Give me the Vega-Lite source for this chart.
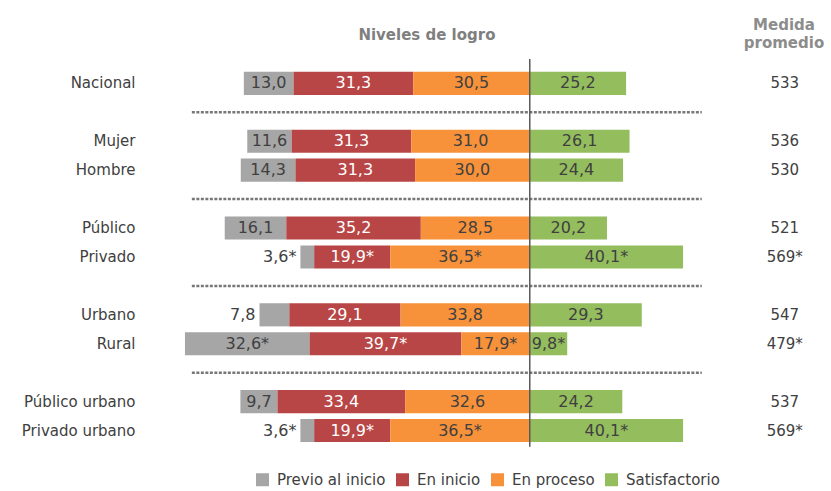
{
  "$schema": "https://vega.github.io/schema/vega-lite/v6.json",
  "width": 625,
  "height": 405,
  "autosize": {"type": "none"},
  "padding": {"left": 180, "top": 40, "right": 26, "bottom": 46},
  "background": "white",
  "config": {"view": {"stroke": null}, "font": "DejaVu Sans"},
  "datasets": {
    "niveles": [
      {"grupo": "Nacional", "nivel": "Previo al inicio", "valor": -13.0, "etiqueta": "13,0"},
      {"grupo": "Nacional", "nivel": "En inicio", "valor": -31.3, "etiqueta": "31,3"},
      {"grupo": "Nacional", "nivel": "En proceso", "valor": -30.5, "etiqueta": "30,5"},
      {"grupo": "Nacional", "nivel": "Satisfactorio", "valor": 25.2, "etiqueta": "25,2"},
      {"grupo": "Mujer", "nivel": "Previo al inicio", "valor": -11.6, "etiqueta": "11,6"},
      {"grupo": "Mujer", "nivel": "En inicio", "valor": -31.3, "etiqueta": "31,3"},
      {"grupo": "Mujer", "nivel": "En proceso", "valor": -31.0, "etiqueta": "31,0"},
      {"grupo": "Mujer", "nivel": "Satisfactorio", "valor": 26.1, "etiqueta": "26,1"},
      {"grupo": "Hombre", "nivel": "Previo al inicio", "valor": -14.3, "etiqueta": "14,3"},
      {"grupo": "Hombre", "nivel": "En inicio", "valor": -31.3, "etiqueta": "31,3"},
      {"grupo": "Hombre", "nivel": "En proceso", "valor": -30.0, "etiqueta": "30,0"},
      {"grupo": "Hombre", "nivel": "Satisfactorio", "valor": 24.4, "etiqueta": "24,4"},
      {"grupo": "Público", "nivel": "Previo al inicio", "valor": -16.1, "etiqueta": "16,1"},
      {"grupo": "Público", "nivel": "En inicio", "valor": -35.2, "etiqueta": "35,2"},
      {"grupo": "Público", "nivel": "En proceso", "valor": -28.5, "etiqueta": "28,5"},
      {"grupo": "Público", "nivel": "Satisfactorio", "valor": 20.2, "etiqueta": "20,2"},
      {"grupo": "Privado", "nivel": "Previo al inicio", "valor": -3.6, "etiqueta": "3,6*"},
      {"grupo": "Privado", "nivel": "En inicio", "valor": -19.9, "etiqueta": "19,9*"},
      {"grupo": "Privado", "nivel": "En proceso", "valor": -36.5, "etiqueta": "36,5*"},
      {"grupo": "Privado", "nivel": "Satisfactorio", "valor": 40.1, "etiqueta": "40,1*"},
      {"grupo": "Urbano", "nivel": "Previo al inicio", "valor": -7.8, "etiqueta": "7,8"},
      {"grupo": "Urbano", "nivel": "En inicio", "valor": -29.1, "etiqueta": "29,1"},
      {"grupo": "Urbano", "nivel": "En proceso", "valor": -33.8, "etiqueta": "33,8"},
      {"grupo": "Urbano", "nivel": "Satisfactorio", "valor": 29.3, "etiqueta": "29,3"},
      {"grupo": "Rural", "nivel": "Previo al inicio", "valor": -32.6, "etiqueta": "32,6*"},
      {"grupo": "Rural", "nivel": "En inicio", "valor": -39.7, "etiqueta": "39,7*"},
      {"grupo": "Rural", "nivel": "En proceso", "valor": -17.9, "etiqueta": "17,9*"},
      {"grupo": "Rural", "nivel": "Satisfactorio", "valor": 9.8, "etiqueta": "9,8*"},
      {"grupo": "Público urbano", "nivel": "Previo al inicio", "valor": -9.7, "etiqueta": "9,7"},
      {"grupo": "Público urbano", "nivel": "En inicio", "valor": -33.4, "etiqueta": "33,4"},
      {"grupo": "Público urbano", "nivel": "En proceso", "valor": -32.6, "etiqueta": "32,6"},
      {"grupo": "Público urbano", "nivel": "Satisfactorio", "valor": 24.2, "etiqueta": "24,2"},
      {"grupo": "Privado urbano", "nivel": "Previo al inicio", "valor": -3.6, "etiqueta": "3,6*"},
      {"grupo": "Privado urbano", "nivel": "En inicio", "valor": -19.9, "etiqueta": "19,9*"},
      {"grupo": "Privado urbano", "nivel": "En proceso", "valor": -36.5, "etiqueta": "36,5*"},
      {"grupo": "Privado urbano", "nivel": "Satisfactorio", "valor": 40.1, "etiqueta": "40,1*"}
    ],
    "promedio": [
      {"grupo": "Nacional", "media": "533"},
      {"grupo": "Mujer", "media": "536"},
      {"grupo": "Hombre", "media": "530"},
      {"grupo": "Público", "media": "521"},
      {"grupo": "Privado", "media": "569*"},
      {"grupo": "Urbano", "media": "547"},
      {"grupo": "Rural", "media": "479*"},
      {"grupo": "Público urbano", "media": "537"},
      {"grupo": "Privado urbano", "media": "569*"}
    ],
    "separadores": [
      {"grupo": "s1"}, {"grupo": "s2"}, {"grupo": "s3"}, {"grupo": "s4"}
    ],
    "encabezado1": [{"grupo": "header", "texto": "Niveles de logro"}],
    "encabezado2": [{"grupo": "header", "texto": "Medida\npromedio"}]
  },
  "encoding": {
    "y": {
      "field": "grupo",
      "type": "ordinal",
      "scale": {
        "type": "band",
        "domain": ["header", "Nacional", "s1", "Mujer", "Hombre", "s2", "Público", "Privado", "s3", "Urbano", "Rural", "s4", "Público urbano", "Privado urbano"],
        "paddingInner": 0.2,
        "paddingOuter": 0.1
      },
      "axis": {
        "title": null,
        "domain": false,
        "ticks": false,
        "labelPadding": 45,
        "labelFont": "DejaVu Sans",
        "labelFontSize": 15,
        "labelColor": "#404040",
        "labelExpr": "indexof(['header','s1','s2','s3','s4'], datum.value) >= 0 ? '' : datum.value"
      }
    }
  },
  "layer": [
    {
      "data": {"name": "separadores"},
      "mark": {"type": "rule", "color": "#777777", "strokeWidth": 2.5, "strokeDash": [3, 1.5]},
      "encoding": {
        "x": {"datum": -88.4, "type": "quantitative", "scale": {"domain": [-91.5, 72], "nice": false, "zero": false}, "axis": null},
        "x2": {"datum": 45}
      }
    },
    {
      "data": {"name": "niveles"},
      "transform": [{"calculate": "indexof(['En proceso','En inicio','Previo al inicio','Satisfactorio'], datum.nivel)", "as": "orden"}],
      "layer": [
        {
          "mark": {"type": "bar"},
          "encoding": {
            "x": {"field": "valor", "type": "quantitative", "stack": "zero", "axis": null},
            "order": {"field": "orden", "type": "quantitative"},
            "color": {
              "field": "nivel",
              "type": "nominal",
              "scale": {
                "domain": ["Previo al inicio", "En inicio", "En proceso", "Satisfactorio"],
                "range": ["#a6a6a6", "#b84646", "#f7923a", "#94bd5e"]
              },
              "legend": {
                "title": null,
                "orient": "none",
                "direction": "horizontal",
                "legendX": 75,
                "legendY": 432,
                "symbolType": "square",
                "symbolSize": 169,
                "symbolStrokeWidth": 0,
                "labelFont": "DejaVu Sans",
                "labelFontSize": 15,
                "labelColor": "#404040",
                "labelOffset": 7,
                "columnPadding": 9
              }
            }
          }
        },
        {
          "mark": {"type": "text", "font": "DejaVu Sans", "fontSize": 16},
          "encoding": {
            "x": {"field": "valor", "type": "quantitative", "stack": "zero", "bandPosition": 0.5},
            "order": {"field": "orden", "type": "quantitative"},
            "detail": {"field": "nivel"},
            "fill": {"condition": {"test": "datum.nivel === 'En inicio'", "value": "#ffffff"}, "value": "#404040"},
            "text": {"condition": {"test": "abs(datum.valor) < 8", "value": ""}, "field": "etiqueta"}
          }
        },
        {
          "mark": {"type": "text", "font": "DejaVu Sans", "fontSize": 16, "align": "right", "dx": -4},
          "encoding": {
            "x": {"field": "valor", "type": "quantitative", "stack": "zero", "bandPosition": 1},
            "order": {"field": "orden", "type": "quantitative"},
            "detail": {"field": "nivel"},
            "fill": {"value": "#404040"},
            "text": {"condition": {"test": "abs(datum.valor) < 8", "field": "etiqueta"}, "value": ""}
          }
        }
      ]
    },
    {
      "data": {"name": "encabezado1"},
      "mark": {"type": "rule", "color": "#595959", "strokeWidth": 1.5},
      "encoding": {
        "x": {"datum": 0, "type": "quantitative"},
        "y": {"datum": "header", "type": "ordinal", "bandPosition": 0.7},
        "y2": {"datum": "Privado urbano", "bandPosition": 1.2}
      }
    },
    {
      "data": {"name": "promedio"},
      "mark": {"type": "text", "font": "DejaVu Sans", "fontSize": 15, "fill": "#404040"},
      "encoding": {
        "x": {"datum": 66.7, "type": "quantitative"},
        "text": {"field": "media"}
      }
    },
    {
      "data": {"name": "encabezado1"},
      "mark": {"type": "text", "font": "DejaVu Sans", "fontSize": 15, "fontWeight": "bold", "fill": "#7f7f7f", "dy": -19},
      "encoding": {
        "x": {"datum": -26.9, "type": "quantitative"},
        "text": {"field": "texto"}
      }
    },
    {
      "data": {"name": "encabezado2"},
      "mark": {"type": "text", "font": "DejaVu Sans", "fontSize": 15, "fontWeight": "bold", "fill": "#8c8c8c", "lineBreak": "\n", "lineHeight": 18, "baseline": "bottom", "dy": -21},
      "encoding": {
        "x": {"datum": 66.5, "type": "quantitative"},
        "text": {"field": "texto"}
      }
    }
  ]
}
